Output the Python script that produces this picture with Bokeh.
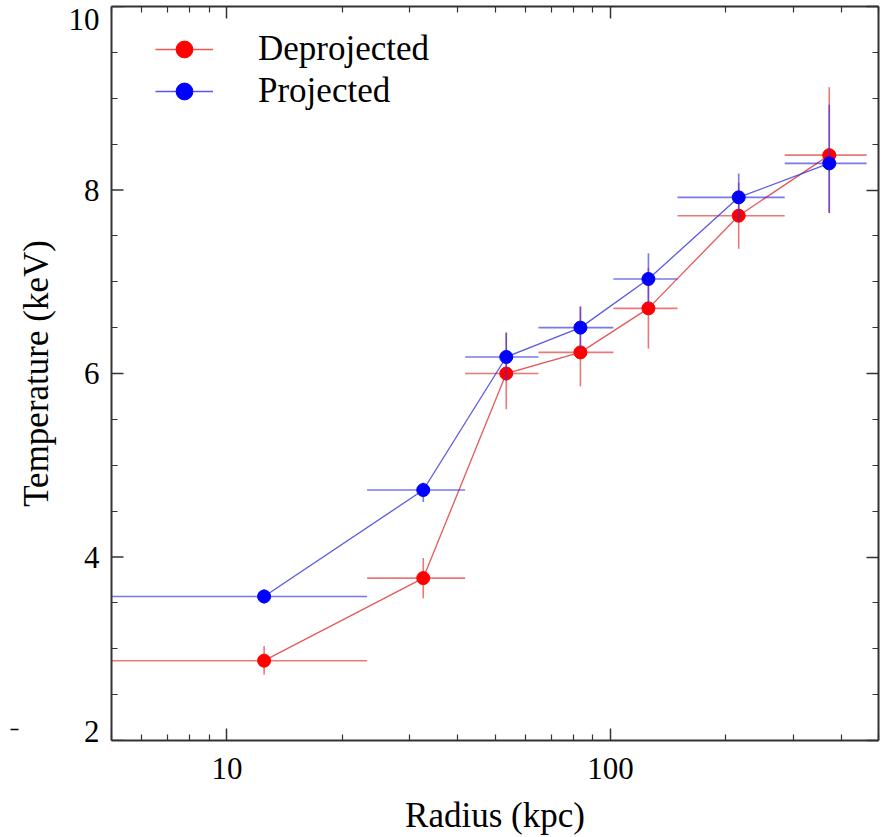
from bokeh.plotting import figure
from bokeh.models import (FixedTicker, LogAxis, LinearAxis, Legend, LegendItem,
                          LabelSet, ColumnDataSource, Arrow, NormalHead, Range1d)
from bokeh.embed import file_html
from bokeh.resources import INLINE

try:
    from bokeh.models import HTMLLabel
except ImportError:
    HTMLLabel = None

# ---------------- data ----------------
radius = [12.5, 32.5, 53.5, 83.5, 125.6, 216.0, 372.0]
r_lo = [4.0, 23.2, 41.8, 64.9, 101.8, 149.6, 284.7]
r_hi = [23.2, 41.8, 64.9, 101.8, 149.6, 284.7, 465.6]

t_deproj = [2.87, 3.77, 6.00, 6.23, 6.71, 7.72, 8.38]
t_deproj_elo = [0.15, 0.22, 0.39, 0.37, 0.44, 0.36, 0.63]
t_deproj_ehi = [0.16, 0.22, 0.45, 0.50, 0.44, 0.36, 0.74]

t_proj = [3.57, 4.73, 6.18, 6.50, 7.03, 7.92, 8.29]
t_proj_elo = [0.08, 0.13, 0.26, 0.23, 0.28, 0.26, 0.54]
t_proj_ehi = [0.08, 0.08, 0.26, 0.23, 0.28, 0.26, 0.64]

x_major = [10, 100]
x_minor = [5, 6, 7, 8, 9, 20, 30, 40, 50, 60, 70, 80, 90, 200, 300, 400, 500]
y_major = [2, 4, 6, 8, 10]
y_minor = [2.5, 3, 3.5, 4.5, 5, 5.5, 6.5, 7, 7.5, 8.5, 9, 9.5]

series = [
    ("Deprojected", t_deproj, t_deproj_elo, t_deproj_ehi, "#ff0000", "#e03030"),
    ("Projected", t_proj, t_proj_elo, t_proj_ehi, "#0000ff", "#3030e0"),
]

SERIF = "Liberation Serif"
AX = "#333333"
X0, X1 = 5, 500
Y0, Y1 = y_major[0], y_major[-1]
W, H = 883, 837
BL, BR, BT, BB = 111, 5, 6, 96
px_per_unit = (H - BT - BB) / (Y1 - Y0)

p = figure(width=W, height=H, x_axis_type="log",
           x_range=Range1d(X0, X1), y_range=Range1d(Y0, Y1),
           output_backend="svg", toolbar_location=None,
           min_border_left=BL, min_border_right=BR,
           min_border_top=BT, min_border_bottom=BB)
p.xgrid.visible = False
p.ygrid.visible = False
p.outline_line_color = None
p.background_fill_color = "white"
p.border_fill_color = "white"

xt = FixedTicker(ticks=x_major, minor_ticks=x_minor)
yt = FixedTicker(ticks=y_major, minor_ticks=y_minor)


def style(ax, labels=True):
    ax.axis_line_width = 2
    ax.axis_line_color = AX
    ax.major_tick_in = 12
    ax.major_tick_out = 0
    ax.minor_tick_in = 6
    ax.minor_tick_out = 0
    ax.major_tick_line_color = AX
    ax.minor_tick_line_color = AX
    ax.major_tick_line_width = 1.5
    ax.minor_tick_line_width = 1.2
    ax.major_label_text_font = SERIF
    ax.major_label_text_color = "black"
    if labels:
        ax.major_label_text_font_size = "31px"
        ax.major_label_standoff = 12
    else:
        ax.major_label_text_font_size = "1px"
        ax.major_label_text_alpha = 0
        ax.major_label_standoff = 0
    ax.axis_label_text_font = SERIF
    ax.axis_label_text_font_style = "normal"
    ax.axis_label_text_font_size = "35px"
    ax.axis_label_text_color = "black"


xa = p.xaxis[0]
xa.ticker = xt
xa.major_label_overrides = {10: "10", 100: "100"}
xa.axis_label = "Radius (kpc)"
style(xa)
xa.major_label_standoff = 17
xa.axis_label_standoff = 14

# left axis: the end labels (2 and 10) sit nudged inside the frame, as in the
# original; label positions are shifted, tick marks stay at the true values
nudge_px = {Y0: -9.5, Y1: 13.5}
label_pos = [round(v - nudge_px.get(v, 0) / px_per_unit, 4) for v in y_major]
ya = p.yaxis[0]
ya.ticker = FixedTicker(ticks=label_pos, minor_ticks=y_minor)
ya.axis_label = "Temperature (keV)"
style(ya)
ya.major_tick_in = 0
ya.major_tick_line_color = None
ya.major_label_overrides = {pos: str(v) for pos, v in zip(label_pos, y_major)}
ya.axis_label_standoff = 10
p.ray(x=[X0] * len(y_major), y=y_major, length=12, angle=0,
      length_units="screen", line_color=AX, line_width=1.5)

top = LogAxis(ticker=xt)
style(top, labels=False)
p.add_layout(top, "above")
right = LinearAxis(ticker=yt)
style(right, labels=False)
p.add_layout(right, "right")

items = []
for name, t, elo, ehi, mc, lc in series:
    ylo = [a - b for a, b in zip(t, elo)]
    yhi = [a + b for a, b in zip(t, ehi)]
    p.segment(x0=r_lo, x1=r_hi, y0=t, y1=t, line_color=lc, line_alpha=0.65, line_width=1.6)
    p.segment(x0=radius, x1=radius, y0=ylo, y1=yhi, line_color=lc, line_alpha=0.65, line_width=1.6)
    ln = p.line(radius, t, line_color=lc, line_alpha=0.8, line_width=1.3)
    sc = p.scatter(radius, t, size=13, fill_color=mc, line_color=mc)
    items.append(LegendItem(label=name, renderers=[ln, sc]))

leg = Legend(items=items, location=(44, 628), orientation="vertical",
             glyph_width=58, glyph_height=42, label_height=42,
             label_standoff=45, spacing=0, padding=0, margin=0,
             border_line_color=None, background_fill_alpha=0,
             label_text_font=SERIF, label_text_font_size="35px",
             label_text_color="black")
p.add_layout(leg, "center")

# cropped-off text fragment at the lower left edge of the original image
if HTMLLabel is not None:
    p.add_layout(HTMLLabel(x=24, y=753, x_units="canvas", y_units="canvas",
                           text="ver", text_align="right",
                           text_baseline="alphabetic",
                           text_font="Liberation Sans", text_font_size="27px",
                           text_color="black"))
else:
    frag = ColumnDataSource(data=dict(x=[24], y=[753], text=["ver"]))
    p.add_layout(LabelSet(x="x", y="y", text="text", source=frag,
                          x_units="canvas", y_units="canvas",
                          text_align="right", text_baseline="alphabetic",
                          text_font="Liberation Sans", text_font_size="27px",
                          text_color="black"))
p.add_layout(Arrow(x_start=0, y_start=729, x_end=18, y_end=729,
                   start_units="canvas", end_units="canvas",
                   line_color="black", line_width=1.5,
                   end=NormalHead(size=8, fill_color="black", line_color="black")))

open("out.html", "w").write(file_html(p, INLINE))
